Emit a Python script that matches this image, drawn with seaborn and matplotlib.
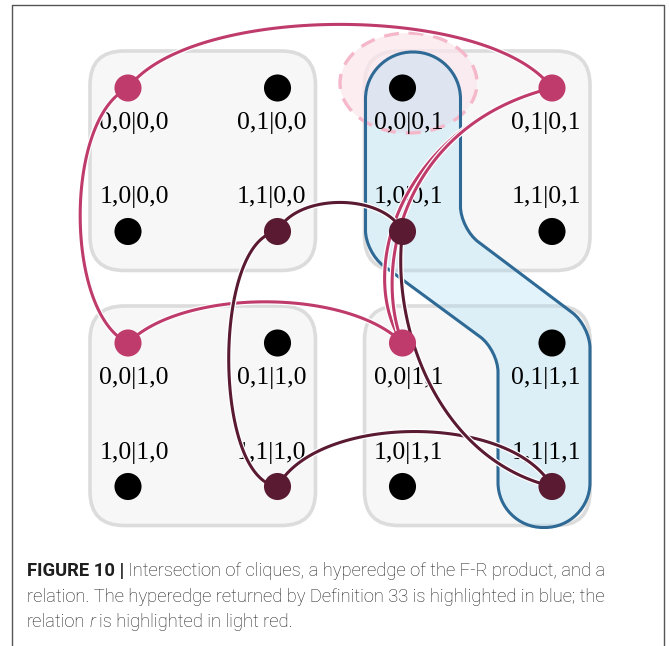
import numpy as np
import pandas as pd
import matplotlib
matplotlib.use("Agg")
import matplotlib.pyplot as plt
import matplotlib.patheffects as pe
from matplotlib.patches import FancyBboxPatch, Ellipse, PathPatch
from matplotlib.path import Path
import seaborn as sns

sns.set_theme(style="white")

# ---- data -------------------------------------------------------------
states = ["0,0|0,0", "0,1|0,0", "1,0|0,0", "1,1|0,0",
          "0,0|0,1", "0,1|0,1", "1,0|0,1", "1,1|0,1",
          "0,0|1,0", "0,1|1,0", "1,0|1,0", "1,1|1,0",
          "0,0|1,1", "0,1|1,1", "1,0|1,1", "1,1|1,1"]
relation_r = ["0,0|0,0", "0,1|0,1", "0,0|1,0", "0,0|1,1"]
clique_b = ["1,1|0,0", "1,0|0,1", "1,1|1,0", "1,1|1,1"]
hyperedge = ["0,0|0,1", "1,0|0,1", "0,1|1,1", "1,1|1,1"]
dashed_state = "0,0|0,1"
relation_edges = [("0,0|0,0", "0,1|0,1"), ("0,0|0,0", "0,0|1,0"),
                  ("0,0|1,0", "0,0|1,1"), ("0,1|0,1", "0,0|1,1")]
clique_edges = [("1,1|0,0", "1,0|0,1"), ("1,1|0,0", "1,1|1,0"),
                ("1,1|1,0", "1,1|1,1"), ("1,0|0,1", "1,1|1,1")]
caption = [
    [("FIGURE 10 |", "bold", "normal"),
     ("Intersection of cliques, a hyperedge of the F-R product, and a", "light", "normal")],
    [("relation. The hyperedge returned by Definition 33 is highlighted in blue; the", "light", "normal")],
    [("relation", "light", "normal"), ("r", "light", "italic"),
     ("is highlighted in light red.", "light", "normal")],
]

# ---- layout / style ---------------------------------------------------
PINK, DARK, BLUE = "#bf3b6b", "#5a1a32", "#2e6a95"
cluster_x, inner_x = [128, 402.5], 149.5
cluster_y, inner_y = [88, 343], 143.5

# cubic bend per strand: (a1, b1, a2, b2) along / across the chord
routing = {
    ("0,0|0,0", "0,1|0,1"): [(0.15, 0.2, 0.85, 0.2)],
    ("0,0|0,0", "0,0|1,0"): [(0.12, -0.25, 0.88, -0.25)],
    ("0,0|1,0", "0,0|1,1"): [(0.2, 0.2, 0.8, 0.2)],
    ("0,1|0,1", "0,0|1,1"): [(0.368, -0.379, 0.874, -0.259),
                             (0.368, -0.379, 0.837, -0.210)],
    ("1,1|0,0", "1,0|0,1"): [(0.15, 0.31, 0.85, 0.31)],
    ("1,1|0,0", "1,1|1,0"): [(0.03, -0.255, 0.97, -0.255)],
    ("1,1|1,0", "1,1|1,1"): [(0.15, 0.267, 0.85, 0.267)],
    ("1,0|0,1", "1,1|1,1"): [(0.267, -0.204, 0.731, -0.280)],
}


def position(s):
    a, b = s.split("|")[0].split(",")
    c, d = s.split("|")[1].split(",")
    return (cluster_x[int(d)] + int(b) * inner_x,
            cluster_y[int(c)] + int(a) * inner_y)


df = pd.DataFrame({"state": states})
df["x"] = [position(s)[0] for s in states]
df["y"] = [position(s)[1] for s in states]
df["role"] = ["r" if s in relation_r else "c" if s in clique_b else "o" for s in states]
pos = {s: (x, y) for s, x, y in zip(df.state, df.x, df.y)}

fig = plt.figure(figsize=(6.7, 6.46), dpi=100)
ax = fig.add_axes([0, 0, 1, 1])
ax.set_xlim(0, 670)
ax.set_ylim(646, 0)
ax.axis("off")

# outer frame
ax.plot([12, 12, 664, 664], [646, 5, 5, 646], color="#555555", lw=1.0, zorder=0)

# cluster boxes
for cr in range(2):
    for cc in range(2):
        x0 = cluster_x[cc] - 38
        y0 = cluster_y[cr] - 37
        w = inner_x + 76
        h = inner_y + 76
        ax.add_patch(FancyBboxPatch((x0, y0), w, h,
                                    boxstyle="round,pad=0,rounding_size=34",
                                    fc="#f7f7f7", ec="#dcdcdc", lw=2.6, zorder=1))

# dashed highlight of relation r
dx, dy = pos[dashed_state]
ax.add_patch(Ellipse((dx + 6, dy - 5), 137, 100, fc="#fbe6ec", ec="none",
                     alpha=0.7, zorder=2))


def rounded(points, radii, k=0.55):
    verts, codes = [], []
    n = len(points)
    pts = np.array(points, float)
    for i in range(n):
        p, prv, nxt = pts[i], pts[i - 1], pts[(i + 1) % n]
        u1 = (prv - p) / np.linalg.norm(prv - p)
        u2 = (nxt - p) / np.linalg.norm(nxt - p)
        s, e = p + u1 * radii[i], p + u2 * radii[i]
        verts.append(s)
        codes.append(Path.MOVETO if not codes else Path.LINETO)
        verts += [s + k * (p - s), e + k * (p - e), e]
        codes += [Path.CURVE4] * 3
    verts.append(verts[0]); codes.append(Path.CLOSEPOLY)
    return Path(verts, codes)


# hyperedge hull
h0, h1, h2, h3 = [np.array(pos[s]) for s in hyperedge]
hull_pts = [(h0[0] - 37, h0[1] - 36), (h0[0] + 58, h0[1] - 36),
            (h1[0] + 58, h1[1] - 3), (h2[0] + 38, h2[1] - 17),
            (h3[0] + 38, h3[1] + 41), (h3[0] - 54, h3[1] + 41),
            (h2[0] - 54, h2[1] + 7), (h1[0] - 37, h1[1] + 21)]
hull_r = [47, 47, 22, 22, 45, 45, 22, 22]
hull = rounded(hull_pts, hull_r)
ax.add_patch(PathPatch(hull, fc="#a6dbf5", ec="none", alpha=0.32, zorder=3))
ax.add_patch(Ellipse((dx + 6, dy - 5), 137, 100, fc="none", ec="#f5b8cb",
                     lw=2.4, ls=(0, (4.5, 3)), zorder=3.5))
ax.add_patch(PathPatch(hull, fc="none", ec=BLUE, lw=2.2, zorder=4))

# state labels
for s, x, y in zip(df.state, df.x, df.y):
    a, b = s.split("|")[0].split(",")
    lx = x + (6 if b == "0" else -6)
    ly = y + 35 if a == "0" else y - 34
    ax.text(lx, ly, s, ha="center", va="center", fontsize=18.5,
            family="Liberation Serif", color="black", zorder=5)


def bezier(p0, p3, a1, b1, a2, b2, n=120):
    p0, p3 = np.array(p0), np.array(p3)
    d = p3 - p0
    perp = np.array([d[1], -d[0]])
    c1 = p0 + a1 * d + b1 * perp
    c2 = p0 + a2 * d + b2 * perp
    t = np.linspace(0, 1, n)[:, None]
    return ((1 - t) ** 3 * p0 + 3 * (1 - t) ** 2 * t * c1
            + 3 * (1 - t) * t ** 2 * c2 + t ** 3 * p3)


casing = [pe.Stroke(linewidth=4.0, foreground="white"), pe.Normal()]
for edges, col in [(relation_edges, PINK), (clique_edges, DARK)]:
    for u, v in edges:
        for strand in routing[(u, v)]:
            curve = bezier(pos[u], pos[v], *strand)
            ax.plot(curve[:, 0], curve[:, 1], color=col, lw=2.2,
                    solid_capstyle="round", path_effects=casing, zorder=6)

sns.scatterplot(data=df, x="x", y="y", hue="role", ax=ax, s=380,
                palette={"r": PINK, "c": DARK, "o": "black"},
                edgecolor="none", legend=False, zorder=7)
ax.set_xlim(0, 670)
ax.set_ylim(646, 0)
ax.axis("off")

# caption
fig.canvas.draw()
renderer = fig.canvas.get_renderer()
for i, runs in enumerate(caption):
    x = 27
    y = 571 + i * 25.5
    for text, weight, style in runs:
        t = ax.text(x, y, text, ha="left", va="center", fontsize=13.2,
                    family="Roboto", weight=weight, style=style,
                    color="#1e1e1e", zorder=8)
        x += t.get_window_extent(renderer).width + 4.0

fig.savefig("out.png", dpi=100)
